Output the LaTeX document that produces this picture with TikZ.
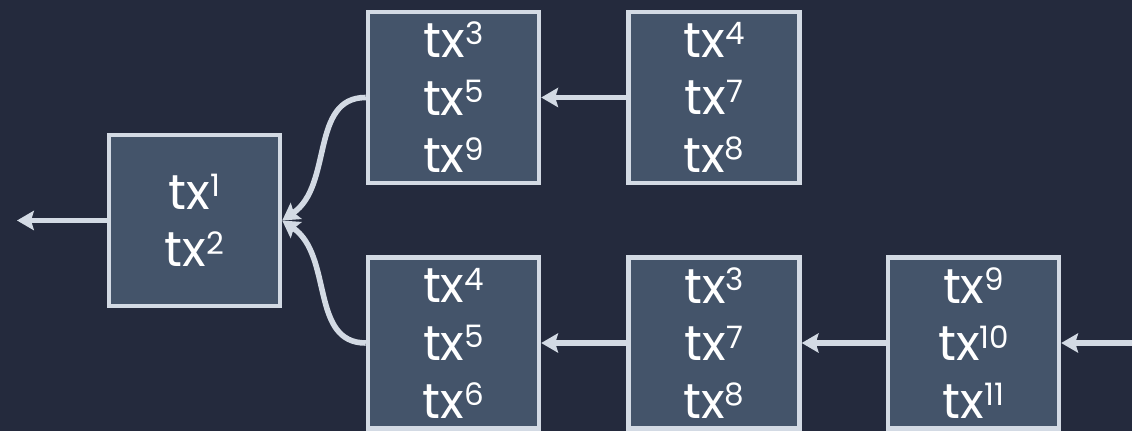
\documentclass[tikz,border=0pt]{standalone}
\usepackage{fontspec}
\setmainfont{Poppins}
\usetikzlibrary{arrows.meta}

\definecolor{bgdark}{HTML}{242A3D}
\definecolor{boxfill}{HTML}{44546A}
\definecolor{edgegray}{HTML}{D3DAE4}

% transaction label with raised index
\newcommand{\tx}[1]{tx\raisebox{9pt}{\fontsize{22}{22}\selectfont #1}}

\begin{document}
\begin{tikzpicture}[
    x=0.025cm, y=-0.025cm,
    block/.style={
        draw=edgegray,
        fill=boxfill,
        line width=0.11cm,
        minimum width=4.275cm,
        minimum height=4.275cm,
        inner sep=0pt,
        text=white,
        font=\fontsize{35}{41}\selectfont,
        align=center
    },
    arrow/.style={-{Stealth[length=0.42cm, width=0.48cm, inset=0.07cm]},
        draw=edgegray, line width=0.14cm}
]

% Background
\fill[bgdark] (0,0) rectangle (1132,431);
\useasboundingbox (0,0) rectangle (1132,431);

% Nodes
\node[block] (base) at (194.5,220.5) {\tx{1}\\\tx{2}};
\node[block] (topA) at (453.5,97.5) {\tx{3}\\\tx{5}\\\tx{9}};
\node[block] (topB) at (714,97.5) {\tx{4}\\\tx{7}\\\tx{8}};
\node[block] (lowA) at (453.5,343) {\tx{4}\\\tx{5}\\\tx{6}};
\node[block] (lowB) at (714,343) {\tx{3}\\\tx{7}\\\tx{8}};
\node[block] (lowC) at (973.5,343) {\tx{9}\\\tx{10}\\\tx{11}};

% Loose ends
\coordinate (out) at (17,220.5);
\coordinate (in) at (1132,343);

% Chains
\draw[arrow] (base.west) -- (out);
\draw[arrow] (topB.west) -- (topA.east);
\draw[arrow] (in) -- (lowC.east);
\draw[arrow] (lowC.west) -- (lowB.east);
\draw[arrow] (lowB.west) -- (lowA.east);

% Branches joining the base block
\draw[arrow] (topA.west) .. controls +(-56,0) and +(51,-35) .. (base.east);
\draw[arrow] (lowA.west) .. controls +(-56,0) and +(51,35) .. (base.east);

\end{tikzpicture}
\end{document}
